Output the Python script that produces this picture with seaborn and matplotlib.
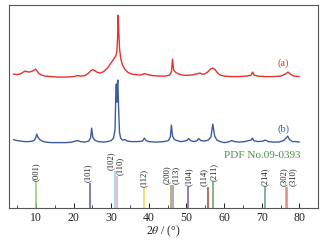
import numpy as np
import pandas as pd
import matplotlib
matplotlib.use("Agg")
import matplotlib.pyplot as plt
import seaborn as sns

# ---- data ----
# curve (a): 2theta, relative intensity (a.u.)
a_2theta = [4.0, 5.0, 6.0, 6.6, 7.1, 7.6, 8.1, 8.7, 9.3, 9.9, 10.3, 10.8, 11.5, 12.5, 14, 16, 18, 20, 21, 22,
            23, 24, 24.6, 25.1, 25.6, 26.2, 27, 28, 29, 29.7, 30.3, 30.8, 31.2, 31.5, 31.7, 31.85, 32.0, 32.2,
            32.5, 33.0, 33.6, 34.5, 35.5, 36.5, 37.7, 38.5, 39.0, 39.6, 41, 43, 44.5, 45.5, 46.0, 46.3, 46.6,
            47.2, 48, 49, 50, 51, 52, 53.0, 53.6, 54.2, 54.8, 55.6, 56.4, 57.0, 57.6, 58.3, 59, 60, 62, 64, 66,
            67.2, 67.6, 68.0, 69, 71, 73, 75, 76.3, 77.0, 77.6, 78.5, 80]
a_int = [2, 1.5, 2.5, 4, 5, 4.5, 4, 4.5, 5.5, 7, 5, 2.5, 1, 0, -0.5, -1, -1, -0.5, 0.5, 0,
         0.5, 3, 5.5, 6.5, 5.5, 4, 3, 4.5, 8, 12, 15, 18, 20, 24, 40, 61, 45, 28,
         18, 11, 7, 3.5, 2, 1.5, 1, 2, 2.5, 1.5, 0.5, 0, 0, 1, 4, 17, 6,
         3.5, 2, 1, 0.8, 1, 1.5, 2.5, 3, 2, 2, 4, 7, 8, 6.5, 3, 1, 0, -0.5, -0.5, 0,
         1, 4, 1, 0, -0.5, -0.5, 0, 2, 4, 2, 0, -0.5]

# curve (b)
b_2theta = [4.0, 5, 6, 7, 8, 9, 9.6, 10.0, 10.2, 10.5, 11, 11.7, 12.5, 14, 16, 18, 19.5, 20.5, 21.2, 21.8,
            23, 24, 24.5, 24.8, 25.1, 25.6, 26.5, 28, 29, 30, 30.6, 31.0, 31.2, 31.35, 31.5, 31.65, 31.75,
            31.95, 32.2, 32.5, 33, 33.7, 34.3, 35.5, 37, 38.3, 38.8, 39.3, 40, 42, 44, 45.2, 45.7, 46.0, 46.3,
            46.8, 47.5, 48.5, 49.5, 50.2, 50.6, 51.1, 52, 52.8, 53.3, 53.8, 54.8, 55.8, 56.5, 57.0, 57.5, 58.1,
            59, 60, 61, 62, 62.8, 64, 65.5, 66.5, 67.2, 67.5, 67.9, 69, 70.3, 71, 71.8, 73, 74.5, 75.8, 76.5,
            76.9, 77.4, 78.2, 79, 80]
b_int = [2.5, 1.5, 1, 0.5, 0.5, 1, 2, 5, 8, 5, 2.5, 1, 0, -0.5, -0.5, -0.5, 0, 1, 1.5, 0.5,
         0, 1, 4, 14, 5, 2, 0.5, 0, 0.5, 1.5, 4, 12, 45, 58, 40, 58, 62,
         35, 10, 4, 2, 2.5, 1, 0.5, 0.5, 1, 4, 1.5, 0.5, 0, 0.5, 1.5, 5, 17, 6,
         2.5, 1.5, 0.5, 1, 2, 3.5, 1.5, 0.5, 1.5, 3.5, 1.5, 1, 2, 5, 18, 6, 2,
         0.5, -0.5, 0, 1.5, 0.5, 0, 0.5, 1.5, 2, 4, 1.5, 0.5, 1, 2, 0.5, 0, 0, 1.5, 4,
         6, 2.5, 0.5, 0.5, 0]

# PDF No.09-0393 reference lines
ref_hkl = ["(001)", "(101)", "(102)", "(110)", "(112)", "(200)", "(113)", "(104)", "(114)",
           "(211)", "(214)", "(302)", "(310)"]
ref_2theta = [9.9, 24.4, 31.0, 31.5, 38.8, 45.8, 46.3, 50.3, 55.8, 57.0, 70.9, 76.5, 76.8]
ref_int = [26, 25, 37, 32, 20, 23, 23, 21, 21, 26, 21, 21, 21]

xticks = [10, 20, 30, 40, 50, 60, 70, 80]

# ---- styling / layout ----
ref_colors = ["#93c873", "#5c5ea8", "#86d7e8", "#e7a3d3", "#efd64c", "#ab9b5e", "#9d8fae",
              "#7b5a9b", "#a2463a", "#5ea45e", "#5f9f80", "#ec9a66", "#d98a7c"]
label_x = [9.9, 23.9, 29.9, 32.3, 38.7, 44.9, 47.1, 50.5, 54.7, 57.4, 70.9, 75.8, 78.4]
offset_a = 132
offset_b = 66
red = "#e2332d"
blue = "#3b5d9e"

sns.set_theme(style="white")
plt.rcParams["font.family"] = ["Liberation Serif", "DejaVu Serif"]
plt.rcParams["mathtext.fontset"] = "stix"

fig = plt.figure(figsize=(3.30, 2.42), dpi=100)
fig.patch.set_facecolor("white")
ax = fig.add_axes([0.027, 0.140, 0.937, 0.839])

dfa = pd.DataFrame({"x": a_2theta, "y": np.array(a_int) + offset_a})
dfb = pd.DataFrame({"x": b_2theta, "y": np.array(b_int) + offset_b})
sns.lineplot(data=dfa, x="x", y="y", ax=ax, color=red, lw=1.0, estimator=None, sort=False)
sns.lineplot(data=dfb, x="x", y="y", ax=ax, color=blue, lw=1.0, estimator=None, sort=False)

for xx, hh, cc in zip(ref_2theta, ref_int, ref_colors):
    ax.vlines(xx, 0, hh, color=cc, lw=1.1)
for lbl, lx, hh in zip(ref_hkl, label_x, ref_int):
    ax.text(lx, hh + 1.0, lbl, rotation=90, ha="center", va="bottom", fontsize=6.2, color="#222222")

ax.text(75.7, 145, "(a)", color=red, fontsize=7.5, ha="center", va="center")
ax.text(75.7, 79, "(b)", color=blue, fontsize=7.5, ha="center", va="center")
ax.text(70.2, 53, "PDF No.09-0393", color="#4d8c4d", fontsize=8, ha="center", va="center")

ax.set_xlim(2.8, 85.0)
ax.set_ylim(0, 203)
ax.set_xticks(xticks)
ax.set_xticks(np.arange(5, 85, 10), minor=True)
ax.set_yticks([])
ax.tick_params(axis="x", which="major", direction="in", length=3.5, width=0.7, labelsize=8.5,
               pad=3, colors="#222222", bottom=True)
ax.tick_params(axis="x", which="minor", direction="in", length=2.5, width=0.6, bottom=True)
ax.set_xlabel(r"2$\theta$ / (°)", fontsize=8.5, labelpad=-0.5, color="#222222")
ax.set_ylabel("")
for s in ax.spines.values():
    s.set_color("#555555")
    s.set_linewidth(0.8)

fig.savefig("out.png", dpi=100, facecolor="white")
